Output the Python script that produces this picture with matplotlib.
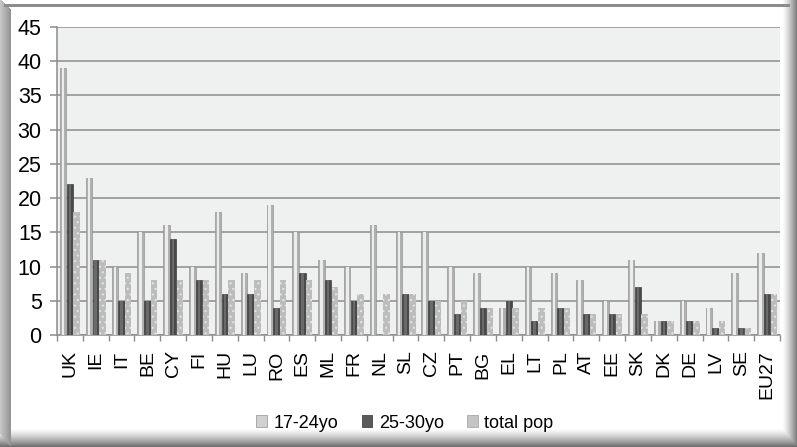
import numpy as np
import matplotlib
matplotlib.use('Agg')
import matplotlib.pyplot as plt
from matplotlib.patches import Patch

plt.rcParams['font.family'] = ['Liberation Sans', 'DejaVu Sans']
plt.rcParams['hatch.linewidth'] = 0.8

countries = ['UK', 'IE', 'IT', 'BE', 'CY', 'FI', 'HU', 'LU', 'RO', 'ES', 'ML', 'FR', 'NL', 'SL',
             'CZ', 'PT', 'BG', 'EL', 'LT', 'PL', 'AT', 'EE', 'SK', 'DK', 'DE', 'LV', 'SE', 'EU27']
age_17_24 = [39, 23, 10, 15, 16, 10, 18, 9, 19, 15, 11, 10, 16, 15,
             15, 10, 9, 4, 10, 9, 8, 5, 11, 2, 5, 4, 9, 12]
age_25_30 = [22, 11, 5, 5, 14, 8, 6, 6, 4, 9, 8, 5, 0, 6,
             5, 3, 4, 5, 2, 4, 3, 3, 7, 2, 2, 1, 1, 6]
total_pop = [18, 11, 9, 8, 8, 8, 8, 8, 8, 8, 7, 6, 6, 6,
             5, 5, 4, 4, 4, 4, 3, 3, 3, 2, 2, 2, 1, 6]

W, H, DPI = 797, 447, 100
fig = plt.figure(figsize=(W / DPI, H / DPI), dpi=DPI)

# bevelled picture frame around the chart
bg = fig.add_axes([0, 0, 1, 1], zorder=-10)
bg.axis('off')
xs = np.arange(W)[None, :].repeat(H, 0).astype(float)
ys = np.arange(H)[:, None].repeat(W, 1).astype(float)
right = np.clip((xs - 782) / 15, 0, 1)
bottom = np.clip((ys - 428) / 19, 0, 1)
shade = np.minimum(1 - 0.55 * right ** 1.3, 1 - 0.6 * bottom ** 1.3)
left = (xs < 11) & (ys > xs - 2) & (ys < H - (11 - xs) * 1.2)
shade = np.where(left, 0.78 - 0.22 * (xs / 11), shade)
top = (ys >= 4) & (ys <= 6) & (xs > 3) & (xs < 790)
shade = np.where(top, 0.55, shade)
bg.imshow(np.dstack([shade] * 3), extent=[0, W, H, 0], aspect='auto', interpolation='bilinear')
bg.set_xlim(0, W)
bg.set_ylim(H, 0)

ax = fig.add_axes([57 / W, 1 - 335 / H, (780 - 57) / W, (335 - 27) / H])
ax.set_facecolor('#eff0f0')

x = np.arange(len(countries))
bw = 0.25
off = 0.26

# 17-24yo: light cylinders with a bright core
ax.bar(x - off, age_17_24, bw, color='#b0b0b0', edgecolor='#969696', linewidth=0.5, zorder=3)
ax.bar(x - off, age_17_24, bw * 0.4, color='#ececec', linewidth=0, zorder=4)
# 25-30yo: dark cylinders
ax.bar(x, age_25_30, bw, color='#4a4a4a', edgecolor='#3e3e3e', linewidth=0.5, zorder=3)
ax.bar(x, age_25_30, bw * 0.4, color='#6a6a6a', linewidth=0, zorder=4)
# total pop: stippled grey
ax.bar(x + off, total_pop, bw, color='#bcbcbc', edgecolor='#e4e4e4', linewidth=0,
       hatch='...', zorder=3)

ax.set_ylim(0, 45)
ax.set_yticks(range(0, 46, 5))
ax.set_xlim(-0.5, len(countries) - 0.5)
ax.set_xticks(x)
ax.set_xticklabels(countries, rotation=90, fontsize=14)
ax.set_xticks(np.arange(-0.5, len(countries)), minor=True)
ax.tick_params(axis='x', which='major', length=0, pad=11)
ax.tick_params(axis='x', which='minor', length=4, color='#8c8c8c', width=1)
ax.tick_params(axis='y', length=5, color='#8c8c8c', width=1.1, labelsize=15.5, pad=6)

ax.grid(axis='y', color='#8c8c8c', linewidth=1.1, zorder=1)
ax.set_axisbelow(True)
for side in ['top', 'right']:
    ax.spines[side].set_visible(False)
ax.spines['left'].set_color('#8c8c8c')
ax.spines['bottom'].set_color('#8c8c8c')
ax.spines['left'].set_linewidth(1.1)
ax.spines['bottom'].set_linewidth(1.1)

handles = [Patch(facecolor='#d0d0d0', edgecolor='#a0a0a0', linewidth=0.6),
           Patch(facecolor='#5a5a5a', edgecolor='#444444', linewidth=0.6),
           Patch(facecolor='#c4c4c4', edgecolor='#a8a8a8', linewidth=0.6)]
fig.legend(handles, ['17-24yo', '25-30yo', 'total pop'], loc='center',
           bbox_to_anchor=(0.508, 1 - 423 / H), ncol=3, frameon=False, fontsize=13,
           handlelength=0.6, handleheight=0.6, handletextpad=0.35, columnspacing=1.3)

fig.savefig('out.png', dpi=DPI)
